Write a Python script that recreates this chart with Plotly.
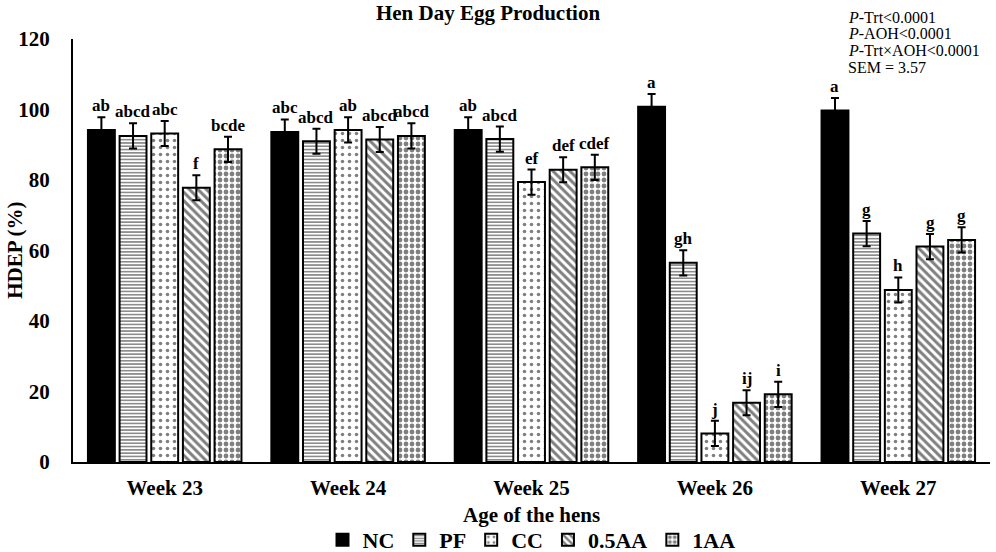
import plotly.graph_objects as go

# datos
weeks = ["Week 23", "Week 24", "Week 25", "Week 26", "Week 27"]
nc = [94.2, 93.6, 94.2, 100.8, 99.7]
pf = [92.5, 91.0, 91.6, 56.5, 64.8]
cc = [93.2, 94.2, 79.4, 8.1, 48.8]
aa05 = [77.8, 91.5, 82.9, 16.8, 61.1]
aa1 = [88.7, 92.5, 83.6, 19.2, 63.0]
sem = 3.57

letters_nc = ["ab", "abc", "ab", "a", "a"]
letters_pf = ["abcd", "abcd", "abcd", "gh", "g"]
letters_cc = ["abc", "ab", "ef", "j", "h"]
letters_05 = ["f", "abcd", "def", "ij", "g"]
letters_1 = ["bcde", "abcd", "cdef", "i", "g"]

stats = ["<i>P</i>-Trt<0.0001", "<i>P</i>-AOH<0.0001", "<i>P</i>-Trt×AOH<0.0001", "SEM = 3.57"]

series = [
    ("NC", nc, letters_nc, dict(shape="", bgcolor="black")),
    ("PF", pf, letters_pf, dict(shape="-", size=3.3, solidity=0.45, fgcolor="black", bgcolor="white")),
    ("CC", cc, letters_cc, dict(shape=".", size=7, solidity=0.2, fgcolor="black", bgcolor="white")),
    ("0.5AA", aa05, letters_05, dict(shape="\\", size=6, solidity=0.5, fgcolor="black", bgcolor="white")),
    ("1AA", aa1, letters_1, dict(shape=".", size=6, solidity=0.5, fgcolor="black", bgcolor="white")),
]

fuente = "Liberation Serif"

fig = go.Figure()
for nombre, vals, _, patron in series:
    fig.add_trace(go.Bar(
        x=weeks, y=vals, name="<b>" + nombre + "</b>",
        marker=dict(color="black" if nombre == "NC" else "white",
                    line=dict(color="black", width=2), pattern=patron),
        error_y=dict(type="constant", value=sem, color="black", thickness=2, width=4),
    ))

# letras de significancia sobre cada barra
slot = 31.7
for i, (nombre, vals, letras, _) in enumerate(series):
    for w, v, l in zip(weeks, vals, letras):
        fig.add_annotation(x=w, y=v + sem, text="<b>" + l + "</b>", showarrow=False,
                           xshift=(i - 2) * slot, yanchor="bottom", yshift=0,
                           font=dict(family=fuente, size=17, color="black"))

# texto de estadisticos, una linea por anotacion
for k, t in enumerate(stats):
    fig.add_annotation(xref="paper", yref="paper", x=0.843, y=1.0, xanchor="left", yanchor="middle",
                       yshift=22 - k * 16.8, align="left", showarrow=False, text=t,
                       font=dict(family=fuente, size=16, color="black"))

# titulos de ejes como anotaciones
fig.add_annotation(xref="paper", yref="paper", x=0.5, y=-0.125, yanchor="middle", showarrow=False,
                   text="<b>Age of the hens</b>", font=dict(family=fuente, size=21, color="black"))
fig.add_annotation(xref="paper", yref="paper", x=-0.064, y=0.5, xanchor="center", showarrow=False,
                   textangle=-90, borderpad=0, text="<b>HDEP (%)</b>",
                   font=dict(family=fuente, size=21, color="black"))

fig.update_layout(
    width=996, height=552,
    paper_bgcolor="white", plot_bgcolor="white",
    margin=dict(l=73, r=6, t=39, b=90, autoexpand=False),
    barmode="group", bargap=0.137, bargroupgap=0.15,
    title=dict(text="<b>Hen Day Egg Production</b>", x=0.49, xanchor="center", y=0.99, yanchor="top",
               font=dict(family=fuente, size=21, color="black")),
    font=dict(family=fuente, color="black"),
    showlegend=True,
    legend=dict(orientation="h", x=0.5, xanchor="center", y=-0.184, yanchor="middle",
                font=dict(family=fuente, size=22, color="black"), itemwidth=30,
                traceorder="normal"),
)
fig.update_xaxes(showline=True, linecolor="black", linewidth=2, ticks="", automargin=False,
                 tickfont=dict(family=fuente, size=21, color="black"), ticklabelstandoff=6,
                 tickprefix="<b>", ticksuffix="</b>")
fig.update_yaxes(range=[0, 120], dtick=20, showline=True, linecolor="black", linewidth=2,
                 showgrid=False, ticks="", zeroline=False, automargin=False,
                 tickfont=dict(family=fuente, size=21, color="black"), ticklabelstandoff=17,
                 tickprefix="<b>", ticksuffix="</b>")

fig.write_html("out.html", config={"displayModeBar": False},
               post_script="document.body.style.margin='0';")
